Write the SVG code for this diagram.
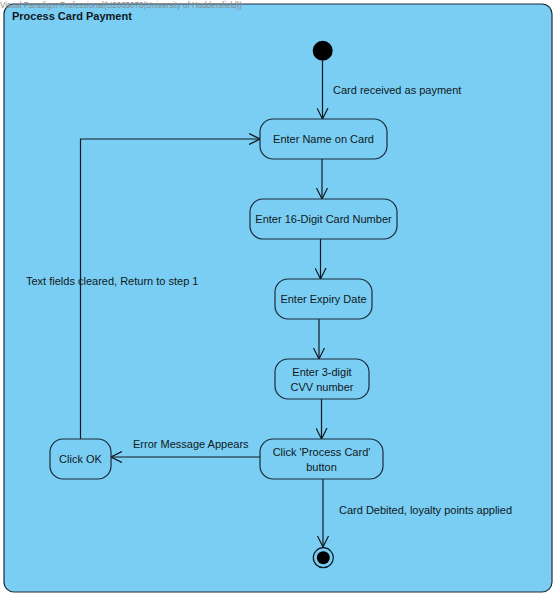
<svg xmlns="http://www.w3.org/2000/svg" width="557" height="596" viewBox="0 0 557 596">
<defs>
<style>
.frame{fill:#7ACEF4;stroke:#1c2b3a;stroke-width:1.2}
.node{fill:#7ACEF4;stroke:#1c2b3a;stroke-width:1.2}
.t{font-family:"Liberation Sans",Arial,sans-serif;font-size:11px;fill:#101820}
.c{text-anchor:middle}
.edge{fill:none;stroke:#101820;stroke-width:1.2;marker-end:url(#arr)}
</style>
<marker id="arr" viewBox="0 0 12 12" refX="11" refY="6" markerWidth="12" markerHeight="12" markerUnits="userSpaceOnUse" orient="auto">
<path d="M0,0.5 L11,6 L0,11.5" fill="none" stroke="#101820" stroke-width="1.2"/>
</marker>
</defs>
<rect x="0" y="0" width="557" height="596" fill="#ffffff"/>
<g id="frame">
<rect class="frame" x="4" y="4" width="548" height="588" rx="10"/>
<text x="0" y="8" font-family="Liberation Sans,Arial,sans-serif" font-size="9" fill="#8a8a8a" textLength="242" lengthAdjust="spacingAndGlyphs">Visual Paradigm Professional(U2065076(University of Huddersfield))</text>
<text x="12" y="20" class="t" font-weight="bold">Process Card Payment</text>
</g>
<g id="connectors">
<path class="edge" d="M322.5,61 L322.5,119"/>
<path class="edge" d="M322,159 L322,199"/>
<path class="edge" d="M320.5,239 L320.5,279"/>
<path class="edge" d="M319,319 L319,359"/>
<path class="edge" d="M321.5,399 L321.5,439"/>
<path class="edge" d="M323,479 L323,547"/>
<path class="edge" d="M260,457 L111,457"/>
<path class="edge" d="M80.5,439 L80.5,139 L260,139"/>
<text class="t" x="333" y="94">Card received as payment</text>
<text class="t" x="26" y="285">Text fields cleared, Return to step 1</text>
<text class="t" x="133" y="448">Error Message Appears</text>
<text class="t" x="339" y="514">Card Debited, loyalty points applied</text>
</g>
<g id="start">
<circle cx="322.7" cy="50.7" r="10" fill="#000"/>
</g>
<g id="enter-name">
<rect class="node" x="260" y="119" width="127" height="40" rx="13"/>
<text class="t c" x="323.5" y="143">Enter Name on Card</text>
</g>
<g id="enter-number">
<rect class="node" x="250" y="199" width="147" height="40" rx="13"/>
<text class="t c" x="323.5" y="223">Enter 16-Digit Card Number</text>
</g>
<g id="enter-expiry">
<rect class="node" x="275" y="279" width="97" height="40" rx="13"/>
<text class="t c" x="323.5" y="303">Enter Expiry Date</text>
</g>
<g id="enter-cvv">
<rect class="node" x="275" y="359" width="94" height="40" rx="13"/>
<text class="t c" x="322" y="376">Enter 3-digit</text>
<text class="t c" x="322" y="391">CVV number</text>
</g>
<g id="process-card">
<rect class="node" x="260" y="439" width="123" height="40" rx="13"/>
<text class="t c" x="321.5" y="456">Click 'Process Card'</text>
<text class="t c" x="321.5" y="471">button</text>
</g>
<g id="click-ok">
<rect class="node" x="50" y="439" width="61" height="40" rx="13"/>
<text class="t c" x="80.5" y="463">Click OK</text>
</g>
<g id="end">
<circle cx="323.3" cy="557.7" r="10" fill="none" stroke="#101820" stroke-width="1.2"/>
<circle cx="323.3" cy="557.7" r="6.5" fill="#000"/>
</g>
</svg>
